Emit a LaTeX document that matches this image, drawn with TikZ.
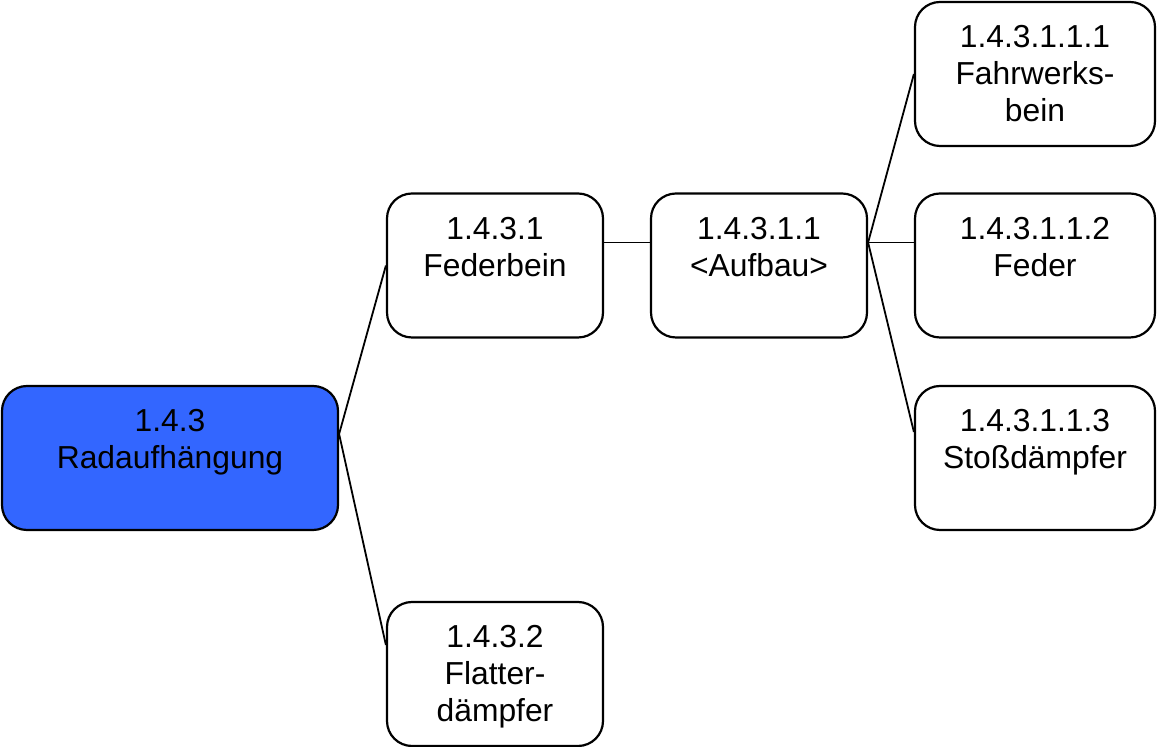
\documentclass[tikz,border=0pt]{standalone}
\usepackage{fontspec}
\setmainfont{Liberation Sans}
\usepackage{tikz}
\usetikzlibrary{calc}
\definecolor{rootblue}{HTML}{3366FF}

\tikzset{
  box/.style={draw, line width=1.1pt, rounded corners=12.5pt, fill=white, align=center,
    inner sep=0pt, text height=23pt, text depth=49pt, text width=108pt,
    font=\fontsize{15.9}{18.5}\selectfont},
  leaf/.style={box, text width=120pt},
  link/.style={line width=0.9pt}
}

\begin{document}
\begin{tikzpicture}[x=0.5pt,y=-0.5pt]
\useasboundingbox (0,0) rectangle (1157,747);
\node[box, text width=168pt, fill=rootblue] (root) at (170,458) {1.4.3\\Radaufhängung};
\node[box] (federbein) at (495,265.5) {1.4.3.1\\Federbein};
\node[box] (flatter) at (495,674) {1.4.3.2\\Flatter-\\dämpfer};
\node[box] (aufbau) at (759,265.5) {1.4.3.1.1\\<Aufbau>};
\node[leaf] (fahrwerk) at (1035,74) {1.4.3.1.1.1\\Fahrwerks-\\bein};
\node[leaf] (feder) at (1035,265.5) {1.4.3.1.1.2\\Feder};
\node[leaf] (stoss) at (1035,458) {1.4.3.1.1.3\\Stoßdämpfer};

\coordinate (rootR) at ([yshift=12pt]root.east);
\coordinate (fork) at ([yshift=11.5pt]aufbau.east);
\draw[link] (rootR) -- (federbein.west);
\draw[link] (rootR) -- ([yshift=14.5pt]flatter.west);
\draw[link] ([yshift=11.5pt]federbein.east) -- ([yshift=11.5pt]aufbau.west);
\foreach \n/\s in {fahrwerk/0pt, feder/11.5pt, stoss/13pt}
  \draw[link] (fork) -- ([yshift=\s]\n.west);
\end{tikzpicture}
\end{document}
